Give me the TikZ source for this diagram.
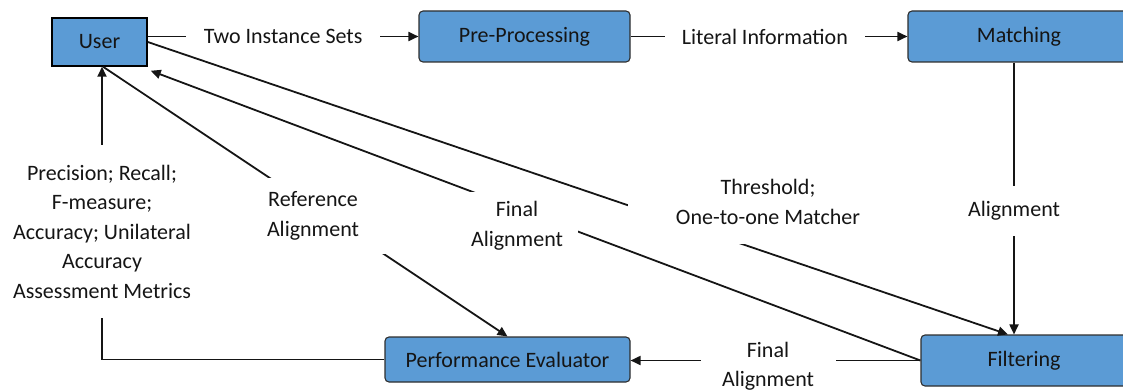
\documentclass[tikz,border=0pt]{standalone}
\usepackage{fontspec}
\setmainfont{Carlito}
\usetikzlibrary{arrows.meta}
\definecolor{boxblue}{HTML}{5B9BD5}
\definecolor{boxline}{HTML}{2E2E2E}
\definecolor{ink}{HTML}{151515}
\begin{document}
\begin{tikzpicture}[x=1pt,y=-1pt,
  font=\fontsize{22}{29.5}\selectfont,
  proc/.style={draw=boxline, line width=1.1pt, fill=boxblue, rounded corners=4pt, inner sep=0pt, text=ink},
  conn/.style={line width=1.8pt, draw=ink},
  arr/.style={conn, -{Triangle[length=10pt,width=9pt]}},
  lbl/.style={fill=white, inner sep=0pt, align=center, text=ink},
]
\useasboundingbox (0,0) rectangle (1123,390);
% boxes
\node[proc, sharp corners, draw=black, line width=1.5pt, minimum width=95pt, minimum height=48pt] (user) at (99.5,42) {User};
\node[proc, minimum width=211pt, minimum height=51pt] (pre) at (524.5,36.5) {Pre-Processing};
\node[proc, minimum width=222pt, minimum height=51pt] (match) at (1019,36.5) {Matching};
\node[proc, minimum width=206pt, minimum height=51pt] (filt) at (1024,360.5) {Filtering};
\node[proc, minimum width=245pt, minimum height=45pt] (perf) at (507.5,359.5) {Performance Evaluator};
% connectors
\draw[arr] (user.east |- pre.west) -- node[lbl, inner xsep=18pt, inner ysep=2pt] (l1) {Two Instance Sets} (pre.west);
\draw[arr] (pre.east) -- node[lbl, pos=0.485, inner xsep=17pt, inner ysep=2pt] (l2) {Literal Information} (match.west);
\draw[arr] ([xshift=-5pt]match.south) -- node[lbl, pos=0.546, minimum height=50pt, inner xsep=4pt] (l3) {Alignment} ([xshift=-5pt]match.south |- filt.north);
\draw[arr] (user.east) -- ([xshift=-16pt]filt.north);
\node[lbl, minimum width=280pt, minimum height=84pt] (l4) at (768,202) {Threshold;\\One-to-one Matcher};
\draw[arr] (filt.west) -- ([shift={(3pt,-4pt)}]user.south east);
\node[lbl, minimum width=122pt, minimum height=68pt] (l5) at (517,226) {Final\\Alignment};
\draw[arr] ([xshift=3.5pt]user.south) -- (perf.north);
\node[lbl, minimum width=148pt, minimum height=76pt] (l6) at (313,216) {Reference\\Alignment};
\draw[arr] (perf.west) -| ([xshift=2.5pt]user.south);
\node[lbl, minimum width=190pt, minimum height=173pt] (l7) at (102,231.5) {Precision; Recall;\\F-measure;\\Accuracy; Unilateral\\Accuracy\\Assessment Metrics};
\draw[arr] (filt.west) -- (filt.west -| perf.east);
\node[lbl, minimum width=135pt, minimum height=52pt] (l8) at (768,366) {Final\\Alignment};
\end{tikzpicture}
\end{document}
